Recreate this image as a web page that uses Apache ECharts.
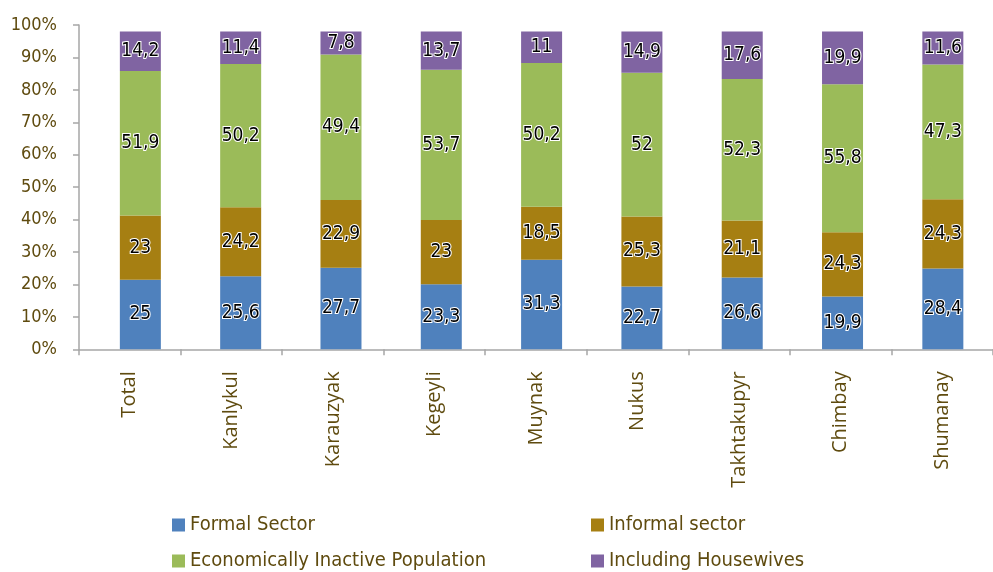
<!DOCTYPE html>
<html>
<head>
<meta charset="utf-8">
<script src="https://cdn.jsdelivr.net/npm/echarts@6/dist/echarts.min.js"></script>
<style>
  html, body { margin: 0; padding: 0; background: #ffffff; }
  #chart { width: 993px; height: 572px; }
</style>
</head>
<body>
<div id="chart"></div>
<script>
// Employment structure by district (values as published, per cent)
const categories = ['Total', 'Kanlykul', 'Karauzyak', 'Kegeyli', 'Muynak', 'Nukus', 'Takhtakupyr', 'Chimbay', 'Shumanay'];
const formalSector = [25, 25.6, 27.7, 23.3, 31.3, 22.7, 26.6, 19.9, 28.4];
const informalSector = [23, 24.2, 22.9, 23, 18.5, 25.3, 21.1, 24.3, 24.3];
const inactivePopulation = [51.9, 50.2, 49.4, 53.7, 50.2, 52, 52.3, 55.8, 47.3];
const housewives = [14.2, 11.4, 7.8, 13.7, 11, 14.9, 17.6, 19.9, 11.6];
const yTicks = [0, 10, 20, 30, 40, 50, 60, 70, 80, 90, 100];

const seriesDefs = [
  { name: 'Formal Sector', values: formalSector, color: '#4F81BD' },
  { name: 'Informal sector', values: informalSector, color: '#A67F12' },
  { name: 'Economically Inactive Population', values: inactivePopulation, color: '#9BBB59' },
  { name: 'Including Housewives', values: housewives, color: '#8064A2' }
];

// Each column is shown as shares of its own total; the stack stops just under the 100% line
const barFill = 98;
const columnTotals = categories.map((_, i) =>
  seriesDefs.reduce((s, d) => s + d.values[i], 0));

const textColor = '#5F4B0F';
const axisGray = '#A6A6A6';
const numFont = '"DejaVu Sans Condensed", "DejaVu Sans", sans-serif';

const fmt = v => String(v).replace('.', ',');

const series = seriesDefs.map(d => ({
  name: d.name,
  type: 'bar',
  stack: 'all',
  xAxisIndex: 1,
  yAxisIndex: 1,
  barWidth: 41,
  itemStyle: { color: d.color },
  data: d.values.map((v, i) => v / columnTotals[i] * barFill),
  label: {
    show: true,
    position: 'inside',
    formatter: p => fmt(d.values[p.dataIndex]),
    fontFamily: numFont,
    fontSize: 19,
    color: '#000000',
    textBorderColor: '#ffffff',
    textBorderWidth: 2
  }
}));

const legendPos = [
  { left: 172, top: 515 },
  { left: 591, top: 515 },
  { left: 172, top: 551 },
  { left: 591, top: 551 }
];

const chart = echarts.init(document.getElementById('chart'), null, { renderer: 'canvas' });
chart.setOption({
  animation: false,
  backgroundColor: '#ffffff',
  grid: [
    { left: 79, top: 25, width: 922, height: 324.3 },
    { left: 90.2, top: 25, width: 905.4, height: 324.3 }
  ],
  legend: seriesDefs.map((d, i) => ({
    data: [d.name],
    left: legendPos[i].left,
    top: legendPos[i].top,
    padding: 0,
    icon: 'rect',
    itemWidth: 13,
    itemHeight: 13,
    itemGap: 6,
    selectedMode: false,
    textStyle: { fontFamily: numFont, fontSize: 20, color: textColor }
  })),
  xAxis: [
    {
      type: 'category',
      gridIndex: 0,
      data: categories,
      axisLine: { lineStyle: { color: axisGray, width: 1.5 } },
      axisTick: { show: true, length: 6, lineStyle: { color: axisGray, width: 1.5 } },
      axisLabel: {
        rotate: 90,
        margin: 22,
        interval: 0,
        fontFamily: '"Open Sans", sans-serif',
        fontSize: 20,
        color: textColor
      }
    },
    {
      type: 'category',
      gridIndex: 1,
      data: categories,
      show: false
    }
  ],
  yAxis: [
    {
      type: 'value',
      gridIndex: 0,
      min: yTicks[0],
      max: yTicks[yTicks.length - 1],
      interval: yTicks[1] - yTicks[0],
      axisLine: { show: true, lineStyle: { color: axisGray, width: 1.5 } },
      axisTick: { show: true, length: 6, lineStyle: { color: axisGray, width: 1.5 } },
      splitLine: { show: false },
      axisLabel: {
        margin: 22,
        formatter: v => v + '%',
        fontFamily: numFont,
        fontSize: 18,
        color: textColor
      }
    },
    {
      type: 'value',
      gridIndex: 1,
      min: yTicks[0],
      max: yTicks[yTicks.length - 1],
      show: false,
      splitLine: { show: false }
    }
  ],
  series: series
});
</script>
</body>
</html>
